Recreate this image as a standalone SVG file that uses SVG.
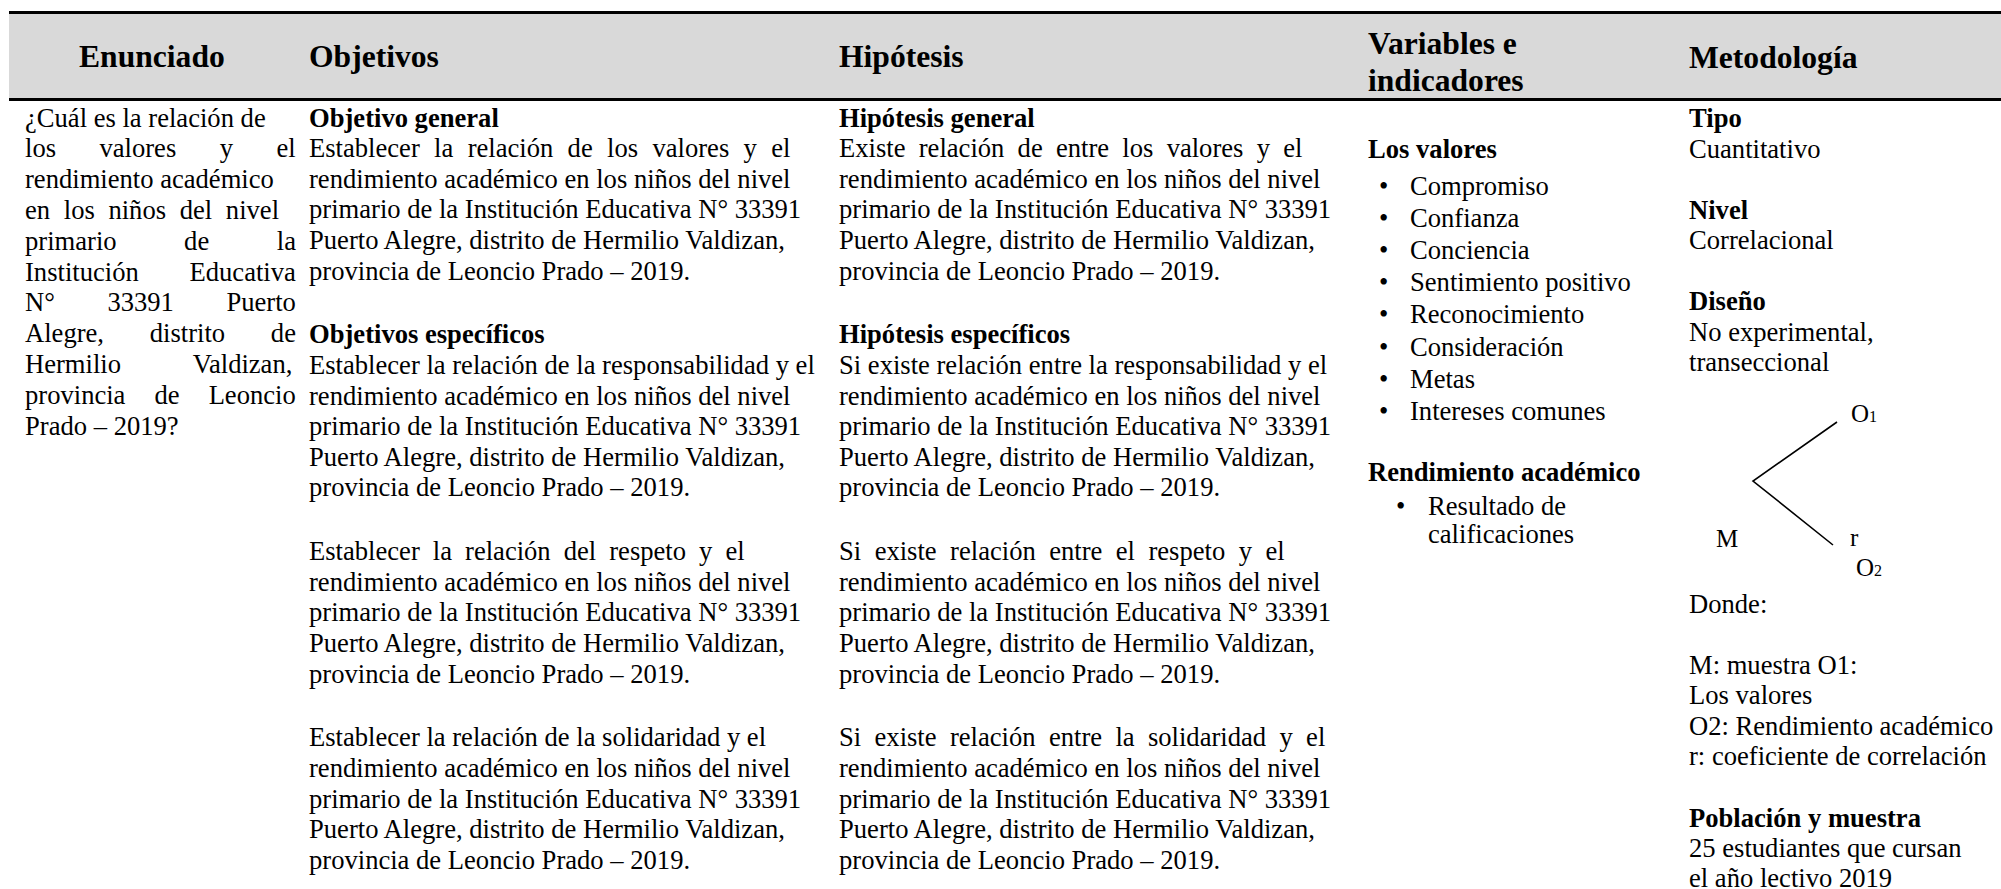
<svg xmlns="http://www.w3.org/2000/svg" width="2001" height="889" viewBox="0 0 2001 889">
<style>
text { font-family: "Liberation Serif", "Times New Roman", serif; fill: #000; }
.t { font-size: 26.6px; }
.tb { font-size: 26.6px; font-weight: bold; }
.h { font-size: 31.6px; font-weight: bold; }
.sm { font-size: 25px; }
.rule { fill: #000; }
.band { fill: #d9d9d9; }
.dline { stroke: #000; stroke-width: 1.6; fill: none; }
</style>
<rect width="2001" height="889" fill="#fff"/>
<g id="header">
<rect class="band" x="9" y="14" width="1992" height="84"/>
<rect class="rule" x="9" y="11" width="1992" height="3"/>
<rect class="rule" x="9" y="98" width="1992" height="3"/>
<text class="h" x="79" y="67">Enunciado</text>
<text class="h" x="309" y="67">Objetivos</text>
<text class="h" x="839" y="67">Hipótesis</text>
<text class="h" x="1368" y="53.5">Variables e</text>
<text class="h" x="1368" y="90.5">indicadores</text>
<text class="h" x="1689" y="68">Metodología</text>
</g>
<g id="enunciado">
<text class="t" x="25" y="126.5">¿Cuál es la relación de</text>
<text class="t" x="25" y="157.3" style="word-spacing:36.8px">los valores y el</text>
<text class="t" x="25" y="188.1">rendimiento académico</text>
<text class="t" x="25" y="218.9" style="word-spacing:7px">en los niños del nivel</text>
<text class="t" x="25" y="249.7" style="word-spacing:60.9px">primario de la</text>
<text class="t" x="25" y="280.5" style="word-spacing:44.1px">Institución Educativa</text>
<text class="t" x="25" y="311.3" style="word-spacing:45.9px">N° 33391 Puerto</text>
<text class="t" x="25" y="342.1" style="word-spacing:39.1px">Alegre, distrito de</text>
<text class="t" x="25" y="372.9" style="word-spacing:65.5px">Hermilio Valdizan,</text>
<text class="t" x="25" y="403.7" style="word-spacing:22.4px">provincia de Leoncio</text>
<text class="t" x="25" y="434.5">Prado – 2019?</text>
</g>
<g id="objetivos">
<text class="tb" x="309" y="126.5">Objetivo general</text>
<text class="t" x="309" y="157.1" style="word-spacing:7.7px">Establecer la relación de los valores y el</text>
<text class="t" x="309" y="187.7">rendimiento académico en los niños del nivel</text>
<text class="t" x="309" y="218.3">primario de la Institución Educativa N° 33391</text>
<text class="t" x="309" y="248.9">Puerto Alegre, distrito de Hermilio Valdizan,</text>
<text class="t" x="309" y="279.5">provincia de Leoncio Prado – 2019.</text>
<text class="tb" x="309" y="343.3">Objetivos específicos</text>
<text class="t" x="309" y="373.9">Establecer la relación de la responsabilidad y el</text>
<text class="t" x="309" y="404.5">rendimiento académico en los niños del nivel</text>
<text class="t" x="309" y="435.1">primario de la Institución Educativa N° 33391</text>
<text class="t" x="309" y="465.7">Puerto Alegre, distrito de Hermilio Valdizan,</text>
<text class="t" x="309" y="496.3">provincia de Leoncio Prado – 2019.</text>
<text class="t" x="309" y="560.1" style="word-spacing:6.4px">Establecer la relación del respeto y el</text>
<text class="t" x="309" y="590.7">rendimiento académico en los niños del nivel</text>
<text class="t" x="309" y="621.3">primario de la Institución Educativa N° 33391</text>
<text class="t" x="309" y="651.9">Puerto Alegre, distrito de Hermilio Valdizan,</text>
<text class="t" x="309" y="682.5">provincia de Leoncio Prado – 2019.</text>
<text class="t" x="309" y="746.3">Establecer la relación de la solidaridad y el</text>
<text class="t" x="309" y="776.9">rendimiento académico en los niños del nivel</text>
<text class="t" x="309" y="807.5">primario de la Institución Educativa N° 33391</text>
<text class="t" x="309" y="838.1">Puerto Alegre, distrito de Hermilio Valdizan,</text>
<text class="t" x="309" y="868.7">provincia de Leoncio Prado – 2019.</text>
</g>
<g id="hipotesis">
<text class="tb" x="839" y="126.5">Hipótesis general</text>
<text class="t" x="839" y="157.1" style="word-spacing:6.6px">Existe relación de entre los valores y el</text>
<text class="t" x="839" y="187.7">rendimiento académico en los niños del nivel</text>
<text class="t" x="839" y="218.3">primario de la Institución Educativa N° 33391</text>
<text class="t" x="839" y="248.9">Puerto Alegre, distrito de Hermilio Valdizan,</text>
<text class="t" x="839" y="279.5">provincia de Leoncio Prado – 2019.</text>
<text class="tb" x="839" y="343.3">Hipótesis específicos</text>
<text class="t" x="839" y="373.9">Si existe relación entre la responsabilidad y el</text>
<text class="t" x="839" y="404.5">rendimiento académico en los niños del nivel</text>
<text class="t" x="839" y="435.1">primario de la Institución Educativa N° 33391</text>
<text class="t" x="839" y="465.7">Puerto Alegre, distrito de Hermilio Valdizan,</text>
<text class="t" x="839" y="496.3">provincia de Leoncio Prado – 2019.</text>
<text class="t" x="839" y="560.1" style="word-spacing:6.8px">Si existe relación entre el respeto y el</text>
<text class="t" x="839" y="590.7">rendimiento académico en los niños del nivel</text>
<text class="t" x="839" y="621.3">primario de la Institución Educativa N° 33391</text>
<text class="t" x="839" y="651.9">Puerto Alegre, distrito de Hermilio Valdizan,</text>
<text class="t" x="839" y="682.5">provincia de Leoncio Prado – 2019.</text>
<text class="t" x="839" y="746.3" style="word-spacing:6.7px">Si existe relación entre la solidaridad y el</text>
<text class="t" x="839" y="776.9">rendimiento académico en los niños del nivel</text>
<text class="t" x="839" y="807.5">primario de la Institución Educativa N° 33391</text>
<text class="t" x="839" y="838.1">Puerto Alegre, distrito de Hermilio Valdizan,</text>
<text class="t" x="839" y="868.7">provincia de Leoncio Prado – 2019.</text>
</g>
<g id="variables">
<text class="tb" x="1368" y="157.5">Los valores</text>
<text class="t" x="1379" y="195">•</text><text class="t" x="1410" y="195">Compromiso</text>
<text class="t" x="1379" y="227.1">•</text><text class="t" x="1410" y="227.1">Confianza</text>
<text class="t" x="1379" y="259.2">•</text><text class="t" x="1410" y="259.2">Conciencia</text>
<text class="t" x="1379" y="291.3">•</text><text class="t" x="1410" y="291.3">Sentimiento positivo</text>
<text class="t" x="1379" y="323.4">•</text><text class="t" x="1410" y="323.4">Reconocimiento</text>
<text class="t" x="1379" y="355.5">•</text><text class="t" x="1410" y="355.5">Consideración</text>
<text class="t" x="1379" y="387.6">•</text><text class="t" x="1410" y="387.6">Metas</text>
<text class="t" x="1379" y="419.7">•</text><text class="t" x="1410" y="419.7">Intereses comunes</text>
<text class="tb" x="1368" y="480.5">Rendimiento académico</text>
<text class="t" x="1396" y="515">•</text><text class="t" x="1428" y="515">Resultado de</text>
<text class="t" x="1428" y="543">calificaciones</text>
</g>
<g id="metodologia">
<text class="tb" x="1689" y="127">Tipo</text>
<text class="t" x="1689" y="157.5">Cuantitativo</text>
<text class="tb" x="1689" y="218.5">Nivel</text>
<text class="t" x="1689" y="249">Correlacional</text>
<text class="tb" x="1689" y="310">Diseño</text>
<text class="t" x="1689" y="340.5">No experimental,</text>
<text class="t" x="1689" y="371">transeccional</text>
<text class="t" x="1689" y="613">Donde:</text>
<text class="t" x="1689" y="674">M: muestra O1:</text>
<text class="t" x="1689" y="704">Los valores</text>
<text class="t" x="1689" y="734.5">O2: Rendimiento académico</text>
<text class="t" x="1689" y="765">r: coeficiente de correlación</text>
<text class="tb" x="1689" y="827">Población y muestra</text>
<text class="t" x="1689" y="857">25 estudiantes que cursan</text>
<text class="t" x="1689" y="886.5">el año lectivo 2019</text>
</g>
<g id="design-diagram">
<text class="sm" x="1851" y="422">O<tspan font-size="16">1</tspan></text>
<text class="sm" x="1716" y="547">M</text>
<text class="sm" x="1850" y="546">r</text>
<text class="sm" x="1856" y="576">O<tspan font-size="16">2</tspan></text>
<g id="connectors">
<polyline class="dline" points="1837,422 1753,481 1833,545"/>
</g>
</g>
</svg>
